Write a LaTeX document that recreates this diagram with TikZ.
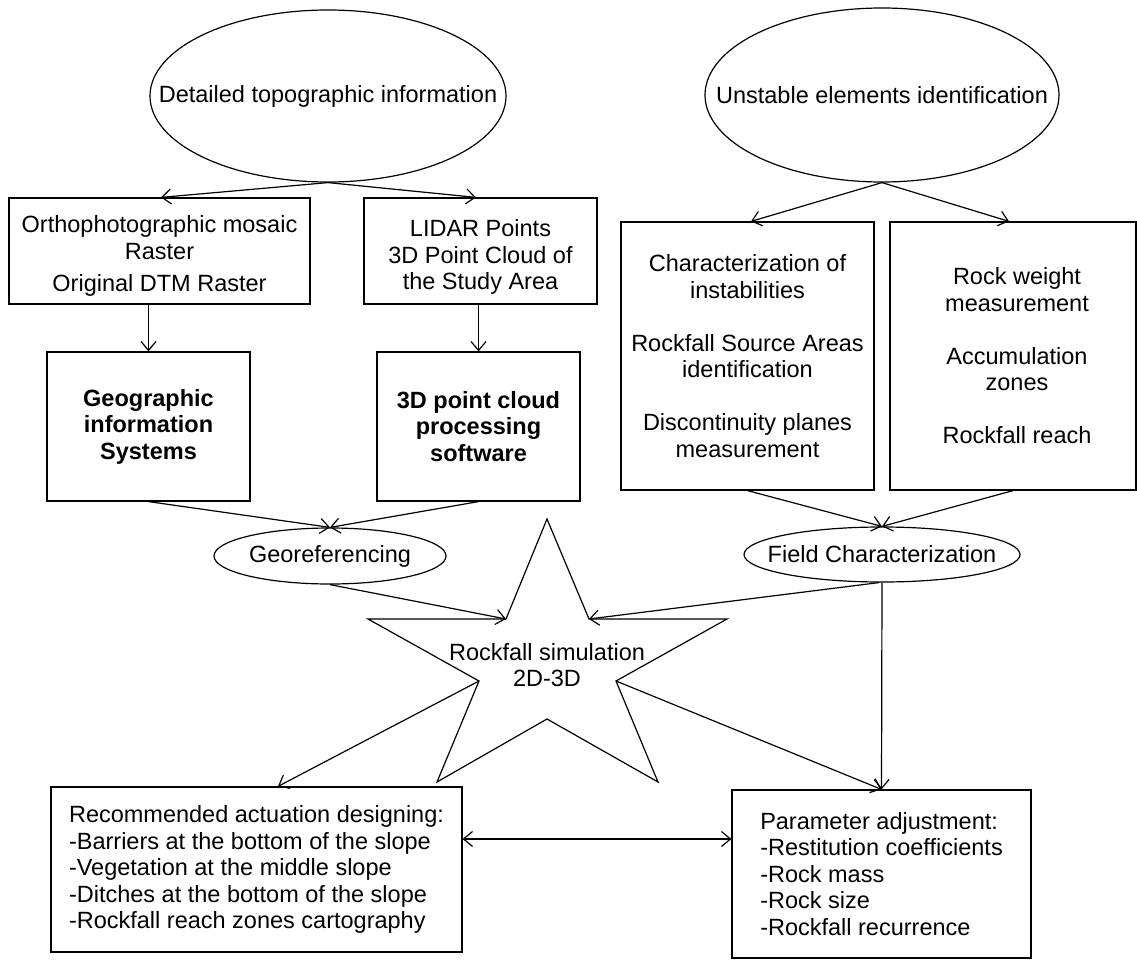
\documentclass[tikz,border=0pt]{standalone}
\usepackage{fontspec}
\setmainfont{Liberation Sans}
\usetikzlibrary{shapes.geometric,arrows.meta}
\begin{document}
\begin{tikzpicture}[x=1pt,y=-1pt,
  every node/.style={font=\fontsize{23.5}{26.5}\selectfont, inner sep=0pt, line width=1.2pt},
  box/.style={draw, rectangle, align=center},
  boldbox/.style={draw, rectangle, align=center, font=\fontsize{23.5}{26.5}\selectfont\bfseries},
  oval/.style={draw, ellipse, align=center},
  lbl/.style={align=center},
  outline/.style={line width=1.2pt, line join=miter},
  conn/.style={line width=1.2pt, -{Straight Barb[length=9pt,width=15pt]}},
  biconn/.style={line width=1.2pt, {Straight Barb[length=9pt,width=15pt]}-{Straight Barb[length=9pt,width=15pt]}}
]
\useasboundingbox (0,0) rectangle (1137,960);

% top ellipses
\node[oval, minimum width=356pt, minimum height=172pt, label={[lbl]center:Detailed topographic information}] (topo) at (328,96) {};
\node[oval, minimum width=354pt, minimum height=174pt, label={[lbl]center:Unstable elements identification}] (unst) at (882,95) {};

% first row boxes
\node[box, minimum width=301pt, minimum height=106pt, label={[lbl, yshift=-5pt]center:{Orthophotographic mosaic\\Raster\\[6pt]Original DTM Raster}}] (ortho) at (159.5,251) {};
\node[box, minimum width=233pt, minimum height=106pt, label={[lbl, yshift=-6pt]center:{LIDAR Points\\3D Point Cloud of\\the Study Area}}] (lidar) at (480.5,251) {};

% software boxes
\node[boldbox, minimum width=203pt, minimum height=149pt] (gis) at (148.5,426.5) {Geographic\\information\\Systems};
\node[boldbox, minimum width=203pt, minimum height=149pt] (pcs) at (478.5,426.5) {3D point cloud\\processing\\software};

% field boxes
\node[box, minimum width=253pt, minimum height=268pt] (charac) at (747.5,356) {Characterization of\\instabilities\\[26.5pt]Rockfall Source Areas\\identification\\[26.5pt]Discontinuity planes\\measurement};
\node[box, minimum width=246pt, minimum height=268pt, label={[lbl, xshift=4pt]center:{Rock weight\\measurement\\[26.5pt]Accumulation\\zones\\[26.5pt]Rockfall reach}}] (rockw) at (1013,356) {};

% middle ellipses
\node[oval, minimum width=232pt, minimum height=56pt, label={[lbl]center:Georeferencing}] (geo) at (330,556) {};
\node[oval, minimum width=276pt, minimum height=55pt, label={[lbl]center:Field Characterization}] (field) at (882,554.5) {};

% star
\coordinate (sT) at (547,519);
\coordinate (sUR) at (589,619);
\coordinate (sR) at (727,619);
\coordinate (sRM) at (616,681);
\coordinate (sBR) at (658,782);
\coordinate (sB) at (547,719);
\coordinate (sBL) at (437,782);
\coordinate (sLM) at (479,681);
\coordinate (sL) at (368,619);
\coordinate (sUL) at (506,619);
\draw[outline] (sT) -- (sUR) -- (sR) -- (sRM) -- (sBR) -- (sB) -- (sBL) -- (sLM) -- (sL) -- (sUL) -- cycle;
\node[lbl] (sim) at (547,665) {Rockfall simulation\\2D-3D};

% bottom boxes
\node[box, align=left, minimum width=411pt, minimum height=165pt] (rec) at (256.5,869.5) {Recommended actuation designing:\\-Barriers at the bottom of the slope\\-Vegetation at the middle slope\\-Ditches at the bottom of the slope\\-Rockfall reach zones cartography};
\node[box, align=left, minimum width=299pt, minimum height=168pt] (param) at (881.5,874) {Parameter adjustment:\\-Restitution coefficients\\-Rock mass\\-Rock size\\-Rockfall recurrence};

% connectors
\draw[conn] (topo.south) -- ([xshift=1.5pt]ortho.north);
\draw[conn] (topo.south) -- ([xshift=-4.5pt]lidar.north);
\draw[conn] (ortho.south -| gis.north) -- (gis.north);
\draw[conn] (lidar.south -| pcs.north) -- (pcs.north);
\draw[conn] (gis.south) -- (geo.north);
\draw[conn] (pcs.south) -- (geo.north);
\draw[conn] (unst.south) -- ([xshift=3.5pt]charac.north);
\draw[conn] (unst.south) -- ([xshift=-4pt]rockw.north);
\draw[conn] (charac.south) -- (field.north);
\draw[conn] (rockw.south) -- (field.north);
\draw[conn] (geo.south) -- (sUL);
\draw[conn] ([xshift=-3pt]field.south) -- (sUR);
\draw[conn] (field.south) -- (param.north);
\draw[conn] (sRM) -- (param.north);
\draw[conn] (sLM) -- ([xshift=21.5pt]rec.north);
\draw[biconn] ([yshift=30.5pt]rec.east) -- ([yshift=30.5pt]rec.east -| param.west);
\end{tikzpicture}
\end{document}
